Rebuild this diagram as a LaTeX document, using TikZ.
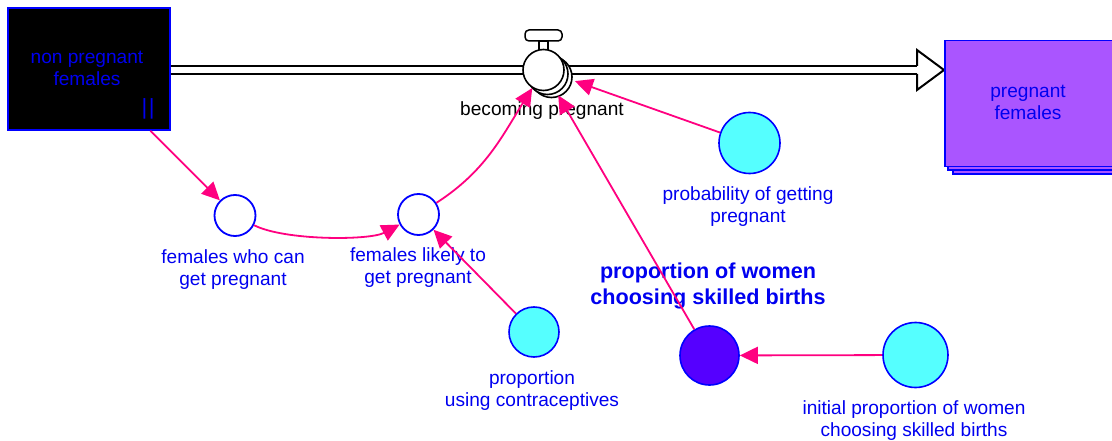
\documentclass[tikz,border=0pt]{standalone}
\usepackage{fontspec}
\setmainfont{Liberation Sans}
\usetikzlibrary{arrows.meta}
\definecolor{linkpink}{RGB}{255,0,128}
\definecolor{auxcyan}{RGB}{85,255,255}
\definecolor{stockpurple}{RGB}{170,85,255}
\definecolor{deeppurple}{RGB}{85,0,255}
\definecolor{lblblue}{RGB}{0,0,240}
\begin{document}
\begin{tikzpicture}[x=1pt,y=1pt,
  lbl/.style={align=center,inner sep=0pt,text=lblblue,font=\fontsize{19.1}{22}\selectfont},
  auxw/.style={circle,draw=blue,line width=1.8pt,fill=white,inner sep=0pt,minimum size=#1},
  auxc/.style={circle,draw=blue,line width=1.6pt,fill=auxcyan,inner sep=0pt,minimum size=#1},
  link/.style={draw=linkpink,line width=1.8pt,-{Triangle[length=18pt,width=17pt]}},
  valveshape/.style={circle,draw=black,line width=1.6pt,fill=white,inner sep=0pt,minimum size=41pt}]
\clip (0,0) rectangle (1112,-441);
\fill[white] (0,0) rectangle (1112,-441);

% pipe
\node[draw=blue,line width=1.5pt,fill=black,minimum width=162pt,minimum height=122pt,inner sep=0pt] (nps) at (89,-69) {};
\coordinate (pipeend) at (918,-70);
\draw[line width=2pt,double=white,double distance=6pt] (nps.east |- 0,-70) -- (pipeend);
\filldraw[fill=white,draw=black,line width=2pt,line join=miter]
  (917,-66) -- (917,-50) -- (944,-70) -- (917,-90) -- (917,-74);
\fill[white] (915,-67) rectangle (919,-73);

% left stock text
\node[lbl] (npst) at (87,-68) {non pregnant\\females};
\node[lbl,font=\fontsize{22}{22}\selectfont] (npsbar) at (148,-109) {|\kern1.5pt|};

% right stock
\draw[draw=blue,line width=1.5pt,fill=stockpurple] (953,-48) rectangle (1140,-174);
\draw[draw=blue,line width=1.5pt,fill=stockpurple] (948,-44) rectangle (1140,-170);
\node[draw=blue,line width=1.5pt,fill=stockpurple,anchor=north west,minimum width=200pt,minimum height=126pt,inner sep=0pt] (ps) at (944,-40) {};
\node[lbl] (pst) at (1028,-102) {pregnant\\females};

% valve
\node[valveshape] (v3) at (551.5,-77) {};
\node[valveshape] (v2) at (547.5,-74) {};
\node[draw=black,line width=1.5pt,fill=white,minimum width=9pt,minimum height=8pt,inner sep=0pt] (stem) at (543.5,-45.5) {};
\node[draw=black,line width=1.5pt,fill=white,rounded corners=4pt,minimum width=37pt,minimum height=11pt,inner sep=0pt] (handle) at (543.5,-35.5) {};
\node[valveshape] (v) at (543.5,-70) {};
\node[inner sep=0pt,font=\fontsize{19.1}{22}\selectfont] (vl) at (542,-111) {becoming pregnant};

% auxiliaries
\node[auxw=41pt] (fw) at (235,-215.5) {};
\node[lbl] (fwl) at (233,-270) {females who can\\get pregnant};
\node[auxw=41pt] (fl) at (418.5,-214.5) {};
\node[lbl] (fll) at (418,-268) {females likely to\\get pregnant};
\node[auxc=61pt] (pr) at (749.5,-143) {};
\node[lbl] (prl) at (748,-206.5) {probability of getting\\pregnant};
\node[auxc=50pt] (ct) at (534,-332) {};
\node[lbl] (ctl) at (532,-391) {proportion\\using contraceptives};
\node[circle,draw=blue,line width=1.6pt,fill=deeppurple,inner sep=0pt,minimum size=59pt] (sk) at (709.5,-355.5) {};
\node[align=center,inner sep=0pt,text=lblblue,font=\fontsize{21.6}{26}\selectfont\bfseries] (skl) at (708,-286) {proportion of women\\choosing skilled births};
\node[auxc=65pt] (ini) at (915.5,-355) {};
\node[lbl] (inil) at (914,-421) {initial proportion of women\\choosing skilled births};

% links
\draw[link] (nps) -- (fw);
\draw[link] (fw) to[out=-27,in=208,looseness=0.6] (fl);
\draw[link] (fl) to[out=33,in=238] (v);
\draw[link] (ct) -- (fl);
\draw[link,shorten >=12pt] (pr) -- (v);
\draw[link,shorten >=8pt] (sk) -- (v);
\draw[link] (ini) -- (sk);
\end{tikzpicture}
\end{document}
